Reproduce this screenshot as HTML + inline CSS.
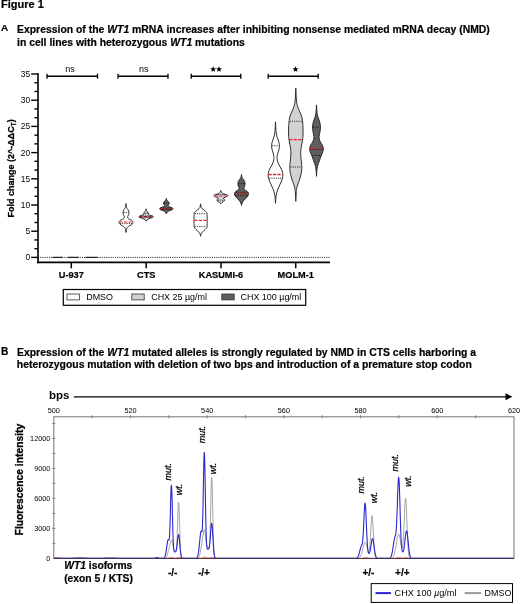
<!DOCTYPE html>
<html><head><meta charset="utf-8"><title>Figure 1</title>
<style>
html,body{margin:0;padding:0;background:#fff;}
body{width:520px;height:604px;overflow:hidden;font-family:"Liberation Sans",sans-serif;}
svg{display:block;opacity:0.999;will-change:transform;font-family:"Liberation Sans",sans-serif;}
svg text{fill:#000;}
</style></head><body>
<svg width="520" height="604" viewBox="0 0 520 604">
<rect width="520" height="604" fill="#fff"/>
<text transform="translate(1,8.2) scale(1,0.92)" font-size="11.05" font-weight="bold" stroke="#000" stroke-width="0.2">Figure 1</text>
<text x="0.9" y="31.2" font-size="9.9" font-weight="bold" stroke="#000" stroke-width="0.2">A</text>
<text x="17" y="33.1" font-size="10.42" font-weight="bold" stroke="#000" stroke-width="0.2">Expression of the <tspan font-style="italic">WT1</tspan> mRNA increases after inhibiting nonsense mediated mRNA decay (NMD)</text>
<text x="17" y="45.7" font-size="10.42" font-weight="bold" stroke="#000" stroke-width="0.2">in cell lines with heterozygous <tspan font-style="italic">WT1</tspan> mutations</text>
<text x="1.0" y="355.3" font-size="10.2" font-weight="bold" stroke="#000" stroke-width="0.2">B</text>
<text x="17" y="355.8" font-size="10.42" font-weight="bold" stroke="#000" stroke-width="0.2">Expression of the <tspan font-style="italic">WT1</tspan> mutated alleles is strongly regulated by NMD in CTS cells harboring a</text>
<text x="16.8" y="368.2" font-size="10.42" font-weight="bold" stroke="#000" stroke-width="0.2">heterozygous mutation with deletion of two bps and introduction of a premature stop codon</text>
<line x1="38.0" x2="38.0" y1="73.0" y2="263.2" stroke="#000" stroke-width="1.6"/>
<line x1="37.3" x2="330" y1="262.4" y2="262.4" stroke="#000" stroke-width="1.6"/>
<line x1="31.2" x2="38.0" y1="257.40" y2="257.40" stroke="#000" stroke-width="1.4"/>
<text x="30.2" y="260.40" font-size="8.4" text-anchor="end">0</text>
<line x1="34.4" x2="38.0" y1="248.67" y2="248.67" stroke="#000" stroke-width="1.4"/>
<line x1="34.4" x2="38.0" y1="239.93" y2="239.93" stroke="#000" stroke-width="1.4"/>
<line x1="31.2" x2="38.0" y1="231.20" y2="231.20" stroke="#000" stroke-width="1.4"/>
<text x="30.2" y="234.20" font-size="8.4" text-anchor="end">5</text>
<line x1="34.4" x2="38.0" y1="222.47" y2="222.47" stroke="#000" stroke-width="1.4"/>
<line x1="34.4" x2="38.0" y1="213.73" y2="213.73" stroke="#000" stroke-width="1.4"/>
<line x1="31.2" x2="38.0" y1="205.00" y2="205.00" stroke="#000" stroke-width="1.4"/>
<text x="30.2" y="208.00" font-size="8.4" text-anchor="end">10</text>
<line x1="34.4" x2="38.0" y1="196.27" y2="196.27" stroke="#000" stroke-width="1.4"/>
<line x1="34.4" x2="38.0" y1="187.53" y2="187.53" stroke="#000" stroke-width="1.4"/>
<line x1="31.2" x2="38.0" y1="178.80" y2="178.80" stroke="#000" stroke-width="1.4"/>
<text x="30.2" y="181.80" font-size="8.4" text-anchor="end">15</text>
<line x1="34.4" x2="38.0" y1="170.07" y2="170.07" stroke="#000" stroke-width="1.4"/>
<line x1="34.4" x2="38.0" y1="161.33" y2="161.33" stroke="#000" stroke-width="1.4"/>
<line x1="31.2" x2="38.0" y1="152.60" y2="152.60" stroke="#000" stroke-width="1.4"/>
<text x="30.2" y="155.60" font-size="8.4" text-anchor="end">20</text>
<line x1="34.4" x2="38.0" y1="143.87" y2="143.87" stroke="#000" stroke-width="1.4"/>
<line x1="34.4" x2="38.0" y1="135.13" y2="135.13" stroke="#000" stroke-width="1.4"/>
<line x1="31.2" x2="38.0" y1="126.40" y2="126.40" stroke="#000" stroke-width="1.4"/>
<text x="30.2" y="129.40" font-size="8.4" text-anchor="end">25</text>
<line x1="34.4" x2="38.0" y1="117.67" y2="117.67" stroke="#000" stroke-width="1.4"/>
<line x1="34.4" x2="38.0" y1="108.93" y2="108.93" stroke="#000" stroke-width="1.4"/>
<line x1="31.2" x2="38.0" y1="100.20" y2="100.20" stroke="#000" stroke-width="1.4"/>
<text x="30.2" y="103.20" font-size="8.4" text-anchor="end">30</text>
<line x1="34.4" x2="38.0" y1="91.47" y2="91.47" stroke="#000" stroke-width="1.4"/>
<line x1="34.4" x2="38.0" y1="82.73" y2="82.73" stroke="#000" stroke-width="1.4"/>
<line x1="31.2" x2="38.0" y1="74.00" y2="74.00" stroke="#000" stroke-width="1.4"/>
<text x="30.2" y="77.00" font-size="8.4" text-anchor="end">35</text>
<line x1="38" x2="329.5" y1="257.40" y2="257.40" stroke="#111" stroke-width="0.9" stroke-dasharray="1.1,1.1"/>
<line x1="52.5" x2="62.5" y1="257.40" y2="257.40" stroke="#222" stroke-width="1.2"/>
<line x1="68.0" x2="78.8" y1="257.40" y2="257.40" stroke="#222" stroke-width="1.2"/>
<line x1="85.5" x2="97.5" y1="257.40" y2="257.40" stroke="#222" stroke-width="1.2"/>
<line x1="71.3" x2="71.3" y1="262.5" y2="268.3" stroke="#000" stroke-width="1.5"/>
<text x="71.3" y="277.7" font-size="9.2" font-weight="bold" text-anchor="middle" stroke="#000" stroke-width="0.2">U-937</text>
<line x1="146.2" x2="146.2" y1="262.5" y2="268.3" stroke="#000" stroke-width="1.5"/>
<text x="146.2" y="277.7" font-size="9.2" font-weight="bold" text-anchor="middle" stroke="#000" stroke-width="0.2">CTS</text>
<line x1="221.0" x2="221.0" y1="262.5" y2="268.3" stroke="#000" stroke-width="1.5"/>
<text x="221.0" y="277.7" font-size="9.2" font-weight="bold" text-anchor="middle" stroke="#000" stroke-width="0.2">KASUMI-6</text>
<line x1="295.7" x2="295.7" y1="262.5" y2="268.3" stroke="#000" stroke-width="1.5"/>
<text x="295.7" y="277.7" font-size="9.2" font-weight="bold" text-anchor="middle" stroke="#000" stroke-width="0.2">MOLM-1</text>
<path d="M47.0,73.7V78.8M97.5,73.7V78.8M47.0,76.25H97.5" stroke="#000" stroke-width="1.3" fill="none"/>
<path d="M118.0,73.7V78.8M168.0,73.7V78.8M118.0,76.25H168.0" stroke="#000" stroke-width="1.3" fill="none"/>
<path d="M191.2,73.7V78.8M240.8,73.7V78.8M191.2,76.25H240.8" stroke="#000" stroke-width="1.3" fill="none"/>
<path d="M268.2,73.7V78.8M318.2,73.7V78.8M268.2,76.25H318.2" stroke="#000" stroke-width="1.3" fill="none"/>
<text x="70" y="72" font-size="9" text-anchor="middle">ns</text>
<text x="143.8" y="72" font-size="9" text-anchor="middle">ns</text>
<polygon points="213.20,66.20 214.02,68.17 216.15,68.34 214.53,69.73 215.02,71.81 213.20,70.70 211.38,71.81 211.87,69.73 210.25,68.34 212.38,68.17" fill="#000"/>
<polygon points="219.00,66.20 219.82,68.17 221.95,68.34 220.33,69.73 220.82,71.81 219.00,70.70 217.18,71.81 217.67,69.73 216.05,68.34 218.18,68.17" fill="#000"/>
<polygon points="295.50,66.20 296.32,68.17 298.45,68.34 296.83,69.73 297.32,71.81 295.50,70.70 293.68,71.81 294.17,69.73 292.55,68.34 294.68,68.17" fill="#000"/>
<text transform="translate(13.9,168.4) rotate(-90)" font-size="9" font-weight="bold" text-anchor="middle" stroke="#000" stroke-width="0.25">Fold change (2^-ΔΔC<tspan font-size="6.3" dy="1.8">T</tspan><tspan dy="-1.8">)</tspan></text>
<rect x="63.3" y="289.5" width="242.4" height="15.8" fill="#fff" stroke="#000" stroke-width="1.2"/>
<rect x="67.0" y="294.0" width="12.4" height="5.9" fill="#ffffff" stroke="#333" stroke-width="0.8"/>
<text x="86.2" y="300.1" font-size="8.95">DMSO</text>
<rect x="131.8" y="294.0" width="12.4" height="5.9" fill="#d2d2d2" stroke="#333" stroke-width="0.8"/>
<text x="151.2" y="300.1" font-size="8.95">CHX 25 µg/ml</text>
<rect x="221.8" y="294.0" width="12.4" height="5.9" fill="#5e5e5e" stroke="#333" stroke-width="0.8"/>
<text x="240.5" y="300.1" font-size="8.95">CHX 100 µg/ml</text>
<path d="M126.00,203.50 C126.06,203.83 126.25,204.83 126.35,205.50 C126.45,206.17 126.34,206.83 126.60,207.50 C126.86,208.17 127.53,208.87 127.90,209.50 C128.27,210.13 128.62,210.73 128.80,211.30 C128.98,211.87 129.02,212.37 129.00,212.90 C128.98,213.43 128.88,213.95 128.70,214.50 C128.52,215.05 128.07,215.68 127.90,216.20 C127.73,216.72 127.58,217.17 127.70,217.60 C127.82,218.03 128.02,218.40 128.60,218.80 C129.18,219.20 130.53,219.60 131.20,220.00 C131.87,220.40 132.32,220.82 132.60,221.20 C132.88,221.58 132.90,221.90 132.90,222.30 C132.90,222.70 132.92,223.15 132.60,223.60 C132.28,224.05 131.67,224.55 131.00,225.00 C130.33,225.45 129.23,225.87 128.60,226.30 C127.97,226.73 127.55,227.07 127.20,227.60 C126.85,228.13 126.70,228.70 126.50,229.50 C126.30,230.30 126.08,231.92 126.00,232.40 L126.00,232.40 C125.92,231.92 125.70,230.30 125.50,229.50 C125.30,228.70 125.15,228.13 124.80,227.60 C124.45,227.07 124.03,226.73 123.40,226.30 C122.77,225.87 121.67,225.45 121.00,225.00 C120.33,224.55 119.72,224.05 119.40,223.60 C119.08,223.15 119.10,222.70 119.10,222.30 C119.10,221.90 119.12,221.58 119.40,221.20 C119.68,220.82 120.13,220.40 120.80,220.00 C121.47,219.60 122.82,219.20 123.40,218.80 C123.98,218.40 124.18,218.03 124.30,217.60 C124.42,217.17 124.27,216.72 124.10,216.20 C123.93,215.68 123.48,215.05 123.30,214.50 C123.12,213.95 123.02,213.43 123.00,212.90 C122.98,212.37 123.02,211.87 123.20,211.30 C123.38,210.73 123.73,210.13 124.10,209.50 C124.47,208.87 125.14,208.17 125.40,207.50 C125.66,206.83 125.55,206.17 125.65,205.50 C125.75,204.83 125.94,203.83 126.00,203.50Z" fill="#ffffff" stroke="#1c1c1c" stroke-width="0.9" stroke-linejoin="round"/>
<line x1="123.64" x2="128.36" y1="212.60" y2="212.60" stroke="#111" stroke-width="0.9" stroke-dasharray="1.1,1.1"/>
<line x1="120.00" x2="132.00" y1="223.60" y2="223.60" stroke="#111" stroke-width="0.9" stroke-dasharray="1.1,1.1"/>
<line x1="119.48" x2="132.52" y1="222.00" y2="222.00" stroke="#e8202a" stroke-width="1.0" stroke-dasharray="3.2,1.3"/>
<path d="M146.10,208.80 C146.17,209.13 146.27,210.30 146.50,210.80 C146.73,211.30 147.20,211.47 147.50,211.80 C147.80,212.13 148.15,212.47 148.30,212.80 C148.45,213.13 148.33,213.50 148.40,213.80 C148.47,214.10 148.32,214.33 148.70,214.60 C149.08,214.87 150.00,215.13 150.70,215.40 C151.40,215.67 152.47,215.97 152.90,216.20 C153.33,216.43 153.33,216.60 153.30,216.80 C153.27,217.00 153.20,217.17 152.70,217.40 C152.20,217.63 151.03,217.93 150.30,218.20 C149.57,218.47 148.85,218.70 148.30,219.00 C147.75,219.30 147.37,219.63 147.00,220.00 C146.63,220.37 146.25,221.00 146.10,221.20 L146.10,221.20 C145.95,221.00 145.57,220.37 145.20,220.00 C144.83,219.63 144.45,219.30 143.90,219.00 C143.35,218.70 142.63,218.47 141.90,218.20 C141.17,217.93 140.00,217.63 139.50,217.40 C139.00,217.17 138.93,217.00 138.90,216.80 C138.87,216.60 138.87,216.43 139.30,216.20 C139.73,215.97 140.80,215.67 141.50,215.40 C142.20,215.13 143.12,214.87 143.50,214.60 C143.88,214.33 143.73,214.10 143.80,213.80 C143.87,213.50 143.75,213.13 143.90,212.80 C144.05,212.47 144.40,212.13 144.70,211.80 C145.00,211.47 145.47,211.30 145.70,210.80 C145.93,210.30 146.03,209.13 146.10,208.80Z" fill="#d2d2d2" stroke="#1c1c1c" stroke-width="0.9" stroke-linejoin="round"/>
<line x1="144.44" x2="147.76" y1="213.40" y2="213.40" stroke="#111" stroke-width="0.9" stroke-dasharray="1.1,1.1"/>
<line x1="140.72" x2="151.48" y1="215.90" y2="215.90" stroke="#111" stroke-width="0.9" stroke-dasharray="1.1,1.1"/>
<line x1="140.10" x2="152.10" y1="217.40" y2="217.40" stroke="#111" stroke-width="0.9" stroke-dasharray="1.1,1.1"/>
<line x1="139.33" x2="152.87" y1="216.60" y2="216.60" stroke="#8e1a20" stroke-width="1.1" stroke-dasharray="3.2,1.3"/>
<path d="M166.30,198.30 C166.37,198.58 166.42,199.52 166.70,200.00 C166.98,200.48 167.62,200.83 168.00,201.20 C168.38,201.57 168.80,201.90 169.00,202.20 C169.20,202.50 169.22,202.70 169.20,203.00 C169.18,203.30 169.07,203.63 168.90,204.00 C168.73,204.37 168.32,204.87 168.20,205.20 C168.08,205.53 168.02,205.73 168.20,206.00 C168.38,206.27 168.72,206.53 169.30,206.80 C169.88,207.07 171.12,207.33 171.70,207.60 C172.28,207.87 172.60,208.17 172.80,208.40 C173.00,208.63 173.02,208.77 172.90,209.00 C172.78,209.23 172.63,209.53 172.10,209.80 C171.57,210.07 170.40,210.32 169.70,210.60 C169.00,210.88 168.37,211.18 167.90,211.50 C167.43,211.82 167.17,212.08 166.90,212.50 C166.63,212.92 166.40,213.75 166.30,214.00 L166.30,214.00 C166.20,213.75 165.97,212.92 165.70,212.50 C165.43,212.08 165.17,211.82 164.70,211.50 C164.23,211.18 163.60,210.88 162.90,210.60 C162.20,210.32 161.03,210.07 160.50,209.80 C159.97,209.53 159.82,209.23 159.70,209.00 C159.58,208.77 159.60,208.63 159.80,208.40 C160.00,208.17 160.32,207.87 160.90,207.60 C161.48,207.33 162.72,207.07 163.30,206.80 C163.88,206.53 164.22,206.27 164.40,206.00 C164.58,205.73 164.52,205.53 164.40,205.20 C164.28,204.87 163.87,204.37 163.70,204.00 C163.53,203.63 163.42,203.30 163.40,203.00 C163.38,202.70 163.40,202.50 163.60,202.20 C163.80,201.90 164.22,201.57 164.60,201.20 C164.98,200.83 165.62,200.48 165.90,200.00 C166.18,199.52 166.23,198.58 166.30,198.30Z" fill="#5e5e5e" stroke="#1c1c1c" stroke-width="0.9" stroke-linejoin="round"/>
<line x1="164.00" x2="168.60" y1="203.00" y2="203.00" stroke="#111" stroke-width="0.9" stroke-dasharray="1.1,1.1"/>
<line x1="160.95" x2="171.65" y1="208.00" y2="208.00" stroke="#111" stroke-width="0.9" stroke-dasharray="1.1,1.1"/>
<line x1="161.00" x2="171.60" y1="209.70" y2="209.70" stroke="#111" stroke-width="0.9" stroke-dasharray="1.1,1.1"/>
<line x1="160.03" x2="172.57" y1="208.80" y2="208.80" stroke="#a81c24" stroke-width="1.2" stroke-dasharray="3.2,1.3"/>
<path d="M200.60,203.80 C200.66,204.17 200.82,205.33 200.95,206.00 C201.08,206.67 201.03,207.22 201.40,207.80 C201.78,208.38 202.53,208.93 203.20,209.50 C203.87,210.07 204.80,210.65 205.40,211.20 C206.00,211.75 206.52,212.25 206.80,212.80 C207.08,213.35 207.03,213.20 207.10,214.50 C207.17,215.80 207.20,218.68 207.20,220.60 C207.20,222.52 207.18,224.80 207.10,226.00 C207.02,227.20 207.02,227.22 206.70,227.80 C206.38,228.38 205.78,228.92 205.20,229.50 C204.62,230.08 203.82,230.72 203.20,231.30 C202.58,231.88 201.87,232.47 201.50,233.00 C201.13,233.53 201.15,233.95 201.00,234.50 C200.85,235.05 200.67,236.00 200.60,236.30 L200.60,236.30 C200.53,236.00 200.35,235.05 200.20,234.50 C200.05,233.95 200.07,233.53 199.70,233.00 C199.33,232.47 198.62,231.88 198.00,231.30 C197.38,230.72 196.58,230.08 196.00,229.50 C195.42,228.92 194.82,228.38 194.50,227.80 C194.18,227.22 194.18,227.20 194.10,226.00 C194.02,224.80 194.00,222.52 194.00,220.60 C194.00,218.68 194.03,215.80 194.10,214.50 C194.17,213.20 194.12,213.35 194.40,212.80 C194.68,212.25 195.20,211.75 195.80,211.20 C196.40,210.65 197.33,210.07 198.00,209.50 C198.67,208.93 199.42,208.38 199.80,207.80 C200.17,207.22 200.12,206.67 200.25,206.00 C200.38,205.33 200.54,204.17 200.60,203.80Z" fill="#ffffff" stroke="#1c1c1c" stroke-width="0.9" stroke-linejoin="round"/>
<line x1="194.84" x2="206.36" y1="213.70" y2="213.70" stroke="#111" stroke-width="0.9" stroke-dasharray="1.1,1.1"/>
<line x1="194.83" x2="206.37" y1="226.60" y2="226.60" stroke="#111" stroke-width="0.9" stroke-dasharray="1.1,1.1"/>
<line x1="194.30" x2="206.90" y1="220.30" y2="220.30" stroke="#e8202a" stroke-width="1.3" stroke-dasharray="3.2,1.3"/>
<path d="M220.80,190.60 C220.87,190.83 220.93,191.60 221.20,192.00 C221.47,192.40 222.03,192.70 222.40,193.00 C222.77,193.30 222.80,193.55 223.40,193.80 C224.00,194.05 225.32,194.27 226.00,194.50 C226.68,194.73 227.22,194.98 227.50,195.20 C227.78,195.42 227.75,195.58 227.70,195.80 C227.65,196.02 227.65,196.25 227.20,196.50 C226.75,196.75 225.65,197.02 225.00,197.30 C224.35,197.58 223.43,197.88 223.30,198.20 C223.17,198.52 223.97,198.85 224.20,199.20 C224.43,199.55 224.77,199.95 224.70,200.30 C224.63,200.65 224.22,200.97 223.80,201.30 C223.38,201.63 222.62,201.98 222.20,202.30 C221.78,202.62 221.53,202.92 221.30,203.20 C221.07,203.48 220.88,203.87 220.80,204.00 L220.80,204.00 C220.72,203.87 220.53,203.48 220.30,203.20 C220.07,202.92 219.82,202.62 219.40,202.30 C218.98,201.98 218.22,201.63 217.80,201.30 C217.38,200.97 216.97,200.65 216.90,200.30 C216.83,199.95 217.17,199.55 217.40,199.20 C217.63,198.85 218.43,198.52 218.30,198.20 C218.17,197.88 217.25,197.58 216.60,197.30 C215.95,197.02 214.85,196.75 214.40,196.50 C213.95,196.25 213.95,196.02 213.90,195.80 C213.85,195.58 213.82,195.42 214.10,195.20 C214.38,194.98 214.92,194.73 215.60,194.50 C216.28,194.27 217.60,194.05 218.20,193.80 C218.80,193.55 218.83,193.30 219.20,193.00 C219.57,192.70 220.13,192.40 220.40,192.00 C220.67,191.60 220.73,190.83 220.80,190.60Z" fill="#d2d2d2" stroke="#1c1c1c" stroke-width="0.9" stroke-linejoin="round"/>
<line x1="215.77" x2="225.83" y1="194.70" y2="194.70" stroke="#111" stroke-width="0.9" stroke-dasharray="1.1,1.1"/>
<line x1="217.55" x2="224.05" y1="200.20" y2="200.20" stroke="#111" stroke-width="0.9" stroke-dasharray="1.1,1.1"/>
<line x1="214.49" x2="227.11" y1="196.20" y2="196.20" stroke="#f0506a" stroke-width="1.3" stroke-dasharray="3.2,1.3"/>
<path d="M241.50,174.40 C241.56,174.75 241.73,175.93 241.85,176.50 C241.97,177.07 241.92,177.30 242.20,177.80 C242.47,178.30 243.08,178.88 243.50,179.50 C243.92,180.12 244.43,180.78 244.70,181.50 C244.97,182.22 245.10,183.05 245.10,183.80 C245.10,184.55 244.87,185.38 244.70,186.00 C244.53,186.62 244.23,187.07 244.10,187.50 C243.97,187.93 243.80,188.22 243.90,188.60 C244.00,188.98 244.20,189.37 244.70,189.80 C245.20,190.23 246.32,190.73 246.90,191.20 C247.48,191.67 247.93,192.15 248.20,192.60 C248.47,193.05 248.50,193.45 248.50,193.90 C248.50,194.35 248.43,194.78 248.20,195.30 C247.97,195.82 247.62,196.38 247.10,197.00 C246.58,197.62 245.73,198.33 245.10,199.00 C244.47,199.67 243.80,200.33 243.30,201.00 C242.80,201.67 242.40,202.27 242.10,203.00 C241.80,203.73 241.60,205.00 241.50,205.40 L241.50,205.40 C241.40,205.00 241.20,203.73 240.90,203.00 C240.60,202.27 240.20,201.67 239.70,201.00 C239.20,200.33 238.53,199.67 237.90,199.00 C237.27,198.33 236.42,197.62 235.90,197.00 C235.38,196.38 235.03,195.82 234.80,195.30 C234.57,194.78 234.50,194.35 234.50,193.90 C234.50,193.45 234.53,193.05 234.80,192.60 C235.07,192.15 235.52,191.67 236.10,191.20 C236.68,190.73 237.80,190.23 238.30,189.80 C238.80,189.37 239.00,188.98 239.10,188.60 C239.20,188.22 239.03,187.93 238.90,187.50 C238.77,187.07 238.47,186.62 238.30,186.00 C238.13,185.38 237.90,184.55 237.90,183.80 C237.90,183.05 238.03,182.22 238.30,181.50 C238.57,180.78 239.08,180.12 239.50,179.50 C239.92,178.88 240.53,178.30 240.80,177.80 C241.08,177.30 241.03,177.07 241.15,176.50 C241.27,175.93 241.44,174.75 241.50,174.40Z" fill="#5e5e5e" stroke="#1c1c1c" stroke-width="0.9" stroke-linejoin="round"/>
<line x1="238.53" x2="244.47" y1="183.60" y2="183.60" stroke="#111" stroke-width="0.9" stroke-dasharray="1.1,1.1"/>
<line x1="235.77" x2="247.23" y1="192.20" y2="192.20" stroke="#111" stroke-width="0.9" stroke-dasharray="1.1,1.1"/>
<line x1="235.40" x2="247.60" y1="195.30" y2="195.30" stroke="#111" stroke-width="0.9" stroke-dasharray="1.1,1.1"/>
<line x1="234.87" x2="248.13" y1="193.60" y2="193.60" stroke="#c02028" stroke-width="1.3" stroke-dasharray="3.2,1.3"/>
<path d="M275.50,121.80 C275.55,122.83 275.68,126.13 275.80,128.00 C275.92,129.87 275.98,131.50 276.20,133.00 C276.42,134.50 276.72,135.67 277.10,137.00 C277.48,138.33 278.10,139.57 278.50,141.00 C278.90,142.43 279.45,144.10 279.50,145.60 C279.55,147.10 279.12,148.60 278.80,150.00 C278.48,151.40 277.90,152.73 277.60,154.00 C277.30,155.27 277.02,156.43 277.00,157.60 C276.98,158.77 277.15,159.77 277.50,161.00 C277.85,162.23 278.47,163.67 279.10,165.00 C279.73,166.33 280.75,167.83 281.30,169.00 C281.85,170.17 282.13,171.03 282.40,172.00 C282.67,172.97 282.88,173.80 282.90,174.80 C282.92,175.80 282.80,176.80 282.50,178.00 C282.20,179.20 281.63,180.67 281.10,182.00 C280.57,183.33 279.90,184.67 279.30,186.00 C278.70,187.33 277.98,188.67 277.50,190.00 C277.02,191.33 276.67,192.67 276.40,194.00 C276.12,195.33 276.00,196.45 275.85,198.00 C275.70,199.55 275.56,202.42 275.50,203.30 L275.50,203.30 C275.44,202.42 275.30,199.55 275.15,198.00 C275.00,196.45 274.88,195.33 274.60,194.00 C274.33,192.67 273.98,191.33 273.50,190.00 C273.02,188.67 272.30,187.33 271.70,186.00 C271.10,184.67 270.43,183.33 269.90,182.00 C269.37,180.67 268.80,179.20 268.50,178.00 C268.20,176.80 268.08,175.80 268.10,174.80 C268.12,173.80 268.33,172.97 268.60,172.00 C268.87,171.03 269.15,170.17 269.70,169.00 C270.25,167.83 271.27,166.33 271.90,165.00 C272.53,163.67 273.15,162.23 273.50,161.00 C273.85,159.77 274.02,158.77 274.00,157.60 C273.98,156.43 273.70,155.27 273.40,154.00 C273.10,152.73 272.52,151.40 272.20,150.00 C271.88,148.60 271.45,147.10 271.50,145.60 C271.55,144.10 272.10,142.43 272.50,141.00 C272.90,139.57 273.52,138.33 273.90,137.00 C274.28,135.67 274.58,134.50 274.80,133.00 C275.02,131.50 275.08,129.87 275.20,128.00 C275.32,126.13 275.45,122.83 275.50,121.80Z" fill="#ffffff" stroke="#1c1c1c" stroke-width="0.9" stroke-linejoin="round"/>
<line x1="272.13" x2="278.87" y1="145.80" y2="145.80" stroke="#111" stroke-width="0.9" stroke-dasharray="1.1,1.1"/>
<line x1="269.17" x2="281.83" y1="178.20" y2="178.20" stroke="#111" stroke-width="0.9" stroke-dasharray="1.1,1.1"/>
<line x1="268.45" x2="282.55" y1="174.50" y2="174.50" stroke="#e8202a" stroke-width="1.3" stroke-dasharray="3.2,1.3"/>
<path d="M295.80,88.00 C295.85,89.17 295.98,92.83 296.10,95.00 C296.22,97.17 296.32,99.33 296.50,101.00 C296.68,102.67 296.92,103.83 297.20,105.00 C297.48,106.17 297.83,107.00 298.20,108.00 C298.57,109.00 298.90,109.83 299.40,111.00 C299.90,112.17 300.73,113.67 301.20,115.00 C301.67,116.33 301.97,117.83 302.20,119.00 C302.43,120.17 302.47,120.67 302.60,122.00 C302.73,123.33 302.93,124.83 303.00,127.00 C303.07,129.17 303.07,132.83 303.00,135.00 C302.93,137.17 302.83,138.33 302.60,140.00 C302.37,141.67 301.90,143.23 301.60,145.00 C301.30,146.77 300.93,148.77 300.80,150.60 C300.67,152.43 300.70,154.10 300.80,156.00 C300.90,157.90 301.23,160.25 301.40,162.00 C301.57,163.75 301.77,165.00 301.80,166.50 C301.83,168.00 301.80,169.42 301.60,171.00 C301.40,172.58 300.98,174.43 300.60,176.00 C300.22,177.57 299.80,178.90 299.30,180.40 C298.80,181.90 298.03,183.67 297.60,185.00 C297.17,186.33 296.93,187.07 296.70,188.40 C296.47,189.73 296.35,190.85 296.20,193.00 C296.05,195.15 295.87,199.92 295.80,201.30 L295.80,201.30 C295.73,199.92 295.55,195.15 295.40,193.00 C295.25,190.85 295.13,189.73 294.90,188.40 C294.67,187.07 294.43,186.33 294.00,185.00 C293.57,183.67 292.80,181.90 292.30,180.40 C291.80,178.90 291.38,177.57 291.00,176.00 C290.62,174.43 290.20,172.58 290.00,171.00 C289.80,169.42 289.77,168.00 289.80,166.50 C289.83,165.00 290.03,163.75 290.20,162.00 C290.37,160.25 290.70,157.90 290.80,156.00 C290.90,154.10 290.93,152.43 290.80,150.60 C290.67,148.77 290.30,146.77 290.00,145.00 C289.70,143.23 289.23,141.67 289.00,140.00 C288.77,138.33 288.67,137.17 288.60,135.00 C288.53,132.83 288.53,129.17 288.60,127.00 C288.67,124.83 288.87,123.33 289.00,122.00 C289.13,120.67 289.17,120.17 289.40,119.00 C289.63,117.83 289.93,116.33 290.40,115.00 C290.87,113.67 291.70,112.17 292.20,111.00 C292.70,109.83 293.03,109.00 293.40,108.00 C293.77,107.00 294.12,106.17 294.40,105.00 C294.68,103.83 294.92,102.67 295.10,101.00 C295.28,99.33 295.38,97.17 295.50,95.00 C295.62,92.83 295.75,89.17 295.80,88.00Z" fill="#d2d2d2" stroke="#1c1c1c" stroke-width="0.9" stroke-linejoin="round"/>
<line x1="289.69" x2="301.91" y1="121.30" y2="121.30" stroke="#111" stroke-width="0.9" stroke-dasharray="1.1,1.1"/>
<line x1="290.42" x2="301.18" y1="167.00" y2="167.00" stroke="#111" stroke-width="0.9" stroke-dasharray="1.1,1.1"/>
<line x1="289.27" x2="302.33" y1="139.60" y2="139.60" stroke="#e8202a" stroke-width="1.3" stroke-dasharray="3.2,1.3"/>
<path d="M316.50,104.90 C316.55,105.75 316.67,108.35 316.80,110.00 C316.93,111.65 317.05,113.47 317.30,114.80 C317.55,116.13 317.90,116.80 318.30,118.00 C318.70,119.20 319.33,120.55 319.70,122.00 C320.07,123.45 320.43,125.20 320.50,126.70 C320.57,128.20 320.30,129.62 320.10,131.00 C319.90,132.38 319.47,133.88 319.30,135.00 C319.13,136.12 319.03,136.78 319.10,137.70 C319.17,138.62 319.33,139.53 319.70,140.50 C320.07,141.47 320.80,142.58 321.30,143.50 C321.80,144.42 322.37,145.15 322.70,146.00 C323.03,146.85 323.27,147.68 323.30,148.60 C323.33,149.52 323.20,150.43 322.90,151.50 C322.60,152.57 321.93,153.92 321.50,155.00 C321.07,156.08 320.63,157.08 320.30,158.00 C319.97,158.92 319.82,159.58 319.50,160.50 C319.18,161.42 318.73,162.50 318.40,163.50 C318.07,164.50 317.75,165.42 317.50,166.50 C317.25,167.58 317.07,168.35 316.90,170.00 C316.73,171.65 316.57,175.33 316.50,176.40 L316.50,176.40 C316.43,175.33 316.27,171.65 316.10,170.00 C315.93,168.35 315.75,167.58 315.50,166.50 C315.25,165.42 314.93,164.50 314.60,163.50 C314.27,162.50 313.82,161.42 313.50,160.50 C313.18,159.58 313.03,158.92 312.70,158.00 C312.37,157.08 311.93,156.08 311.50,155.00 C311.07,153.92 310.40,152.57 310.10,151.50 C309.80,150.43 309.67,149.52 309.70,148.60 C309.73,147.68 309.97,146.85 310.30,146.00 C310.63,145.15 311.20,144.42 311.70,143.50 C312.20,142.58 312.93,141.47 313.30,140.50 C313.67,139.53 313.83,138.62 313.90,137.70 C313.97,136.78 313.87,136.12 313.70,135.00 C313.53,133.88 313.10,132.38 312.90,131.00 C312.70,129.62 312.43,128.20 312.50,126.70 C312.57,125.20 312.93,123.45 313.30,122.00 C313.67,120.55 314.30,119.20 314.70,118.00 C315.10,116.80 315.45,116.13 315.70,114.80 C315.95,113.47 316.07,111.65 316.20,110.00 C316.33,108.35 316.45,105.75 316.50,104.90Z" fill="#5e5e5e" stroke="#1c1c1c" stroke-width="0.9" stroke-linejoin="round"/>
<line x1="313.14" x2="319.86" y1="127.10" y2="127.10" stroke="#111" stroke-width="0.9" stroke-dasharray="1.1,1.1"/>
<line x1="310.41" x2="322.59" y1="149.40" y2="149.40" stroke="#111" stroke-width="0.9" stroke-dasharray="1.1,1.1"/>
<line x1="312.26" x2="320.74" y1="155.40" y2="155.40" stroke="#111" stroke-width="0.9" stroke-dasharray="1.1,1.1"/>
<line x1="310.02" x2="322.98" y1="148.50" y2="148.50" stroke="#c82830" stroke-width="1.3" stroke-dasharray="3.2,1.3"/>
<rect x="53.8" y="416.8" width="460.2" height="141.6" fill="none" stroke="#747474" stroke-width="1"/>
<text x="53.80" y="412.8" font-size="7.3" text-anchor="middle">500</text>
<line x1="92.15" x2="92.15" y1="415.2" y2="418.4" stroke="#7a7a7a" stroke-width="0.9"/>
<line x1="130.50" x2="130.50" y1="415.2" y2="418.4" stroke="#7a7a7a" stroke-width="0.9"/>
<text x="130.50" y="412.8" font-size="7.3" text-anchor="middle">520</text>
<line x1="168.85" x2="168.85" y1="415.2" y2="418.4" stroke="#7a7a7a" stroke-width="0.9"/>
<line x1="207.20" x2="207.20" y1="415.2" y2="418.4" stroke="#7a7a7a" stroke-width="0.9"/>
<text x="207.20" y="412.8" font-size="7.3" text-anchor="middle">540</text>
<line x1="245.55" x2="245.55" y1="415.2" y2="418.4" stroke="#7a7a7a" stroke-width="0.9"/>
<line x1="283.90" x2="283.90" y1="415.2" y2="418.4" stroke="#7a7a7a" stroke-width="0.9"/>
<text x="283.90" y="412.8" font-size="7.3" text-anchor="middle">560</text>
<line x1="322.25" x2="322.25" y1="415.2" y2="418.4" stroke="#7a7a7a" stroke-width="0.9"/>
<line x1="360.60" x2="360.60" y1="415.2" y2="418.4" stroke="#7a7a7a" stroke-width="0.9"/>
<text x="360.60" y="412.8" font-size="7.3" text-anchor="middle">580</text>
<line x1="398.95" x2="398.95" y1="415.2" y2="418.4" stroke="#7a7a7a" stroke-width="0.9"/>
<line x1="437.30" x2="437.30" y1="415.2" y2="418.4" stroke="#7a7a7a" stroke-width="0.9"/>
<text x="437.30" y="412.8" font-size="7.3" text-anchor="middle">600</text>
<line x1="475.65" x2="475.65" y1="415.2" y2="418.4" stroke="#7a7a7a" stroke-width="0.9"/>
<text x="514.00" y="412.8" font-size="7.3" text-anchor="middle">620</text>
<text x="50.4" y="561.00" font-size="7.3" text-anchor="end">0</text>
<line x1="52.2" x2="55.4" y1="543.40" y2="543.40" stroke="#7a7a7a" stroke-width="0.9"/>
<line x1="52.2" x2="55.4" y1="528.40" y2="528.40" stroke="#7a7a7a" stroke-width="0.9"/>
<text x="50.4" y="531.00" font-size="7.3" text-anchor="end">3000</text>
<line x1="52.2" x2="55.4" y1="513.40" y2="513.40" stroke="#7a7a7a" stroke-width="0.9"/>
<line x1="52.2" x2="55.4" y1="498.40" y2="498.40" stroke="#7a7a7a" stroke-width="0.9"/>
<text x="50.4" y="501.00" font-size="7.3" text-anchor="end">6000</text>
<line x1="52.2" x2="55.4" y1="483.40" y2="483.40" stroke="#7a7a7a" stroke-width="0.9"/>
<line x1="52.2" x2="55.4" y1="468.40" y2="468.40" stroke="#7a7a7a" stroke-width="0.9"/>
<text x="50.4" y="471.00" font-size="7.3" text-anchor="end">9000</text>
<line x1="52.2" x2="55.4" y1="453.40" y2="453.40" stroke="#7a7a7a" stroke-width="0.9"/>
<line x1="52.2" x2="55.4" y1="438.40" y2="438.40" stroke="#7a7a7a" stroke-width="0.9"/>
<text x="50.4" y="441.00" font-size="7.3" text-anchor="end">12000</text>
<line x1="52.2" x2="55.4" y1="423.40" y2="423.40" stroke="#7a7a7a" stroke-width="0.9"/>
<text x="48.9" y="398.5" font-size="11.5" font-weight="bold">bps</text>
<line x1="73.8" x2="506" y1="396.8" y2="396.8" stroke="#000" stroke-width="1.3"/>
<path d="M505.5,393.3V400.2L512.4,396.75Z" fill="#000"/>
<text transform="translate(22.6,479.6) rotate(-90)" font-size="10.3" font-weight="bold" text-anchor="middle" stroke="#000" stroke-width="0.3">Fluorescence intensity</text>
<path d="M54.00,558.40 L56.00,558.40 L58.00,558.40 L60.00,558.40 L62.00,558.40 L64.00,558.40 L66.00,558.40 L68.00,558.40 L70.00,558.40 L72.00,558.40 L74.00,558.40 L76.00,558.40 L78.00,558.40 L80.00,558.40 L82.00,558.40 L84.00,558.40 L86.00,558.40 L88.00,558.40 L90.00,558.40 L92.00,558.40 L94.00,558.40 L96.00,558.40 L98.00,558.40 L100.00,558.40 L102.00,558.40 L104.00,558.40 L106.00,558.40 L108.00,558.40 L110.00,558.40 L112.00,558.40 L114.00,558.40 L116.00,558.40 L118.00,558.40 L120.00,558.40 L122.00,558.40 L124.00,558.40 L126.00,558.40 L128.00,558.40 L130.00,558.40 L132.00,558.40 L134.00,558.40 L136.00,558.40 L138.00,558.40 L140.00,558.40 L142.00,558.40 L144.00,558.40 L146.00,558.40 L148.00,558.40 L150.00,558.40 L150.25,558.40 L150.50,558.40 L150.75,558.40 L151.00,558.40 L151.25,558.40 L151.50,558.40 L151.75,558.40 L152.00,558.40 L152.25,558.40 L152.50,558.40 L152.75,558.40 L153.00,558.40 L153.25,558.40 L153.50,558.40 L153.75,558.40 L154.00,558.40 L154.25,558.40 L154.50,558.40 L154.75,558.40 L155.00,558.40 L155.25,558.40 L155.50,558.40 L155.75,558.40 L156.00,558.40 L156.25,558.40 L156.50,558.40 L156.75,558.40 L157.00,558.40 L157.25,558.40 L157.50,558.40 L157.75,558.40 L158.00,558.40 L158.25,558.40 L158.50,558.40 L158.75,558.40 L159.00,558.40 L159.25,558.40 L159.50,558.40 L159.75,558.40 L160.00,558.40 L160.25,558.40 L160.50,558.40 L160.75,558.40 L161.00,558.40 L161.25,558.40 L161.50,558.40 L161.75,558.40 L162.00,558.40 L162.25,558.40 L162.50,558.40 L162.75,558.40 L163.00,558.40 L163.25,558.40 L163.50,558.40 L163.75,558.40 L164.00,558.39 L164.25,558.38 L164.50,558.37 L164.75,558.35 L165.00,558.30 L165.25,558.23 L165.50,558.12 L165.75,557.96 L166.00,557.72 L166.25,557.38 L166.50,556.94 L166.75,556.37 L167.00,555.69 L167.25,554.89 L167.50,554.01 L167.75,553.08 L168.00,552.12 L168.25,551.18 L168.50,550.27 L168.75,549.39 L169.00,548.52 L169.25,547.62 L169.50,546.65 L169.75,545.60 L170.00,544.45 L170.25,543.25 L170.50,542.07 L170.75,541.03 L171.00,540.24 L171.25,539.80 L171.50,539.77 L171.75,540.18 L172.00,540.98 L172.25,542.08 L172.50,543.36 L172.75,544.70 L173.00,545.97 L173.25,547.09 L173.50,548.03 L173.75,548.77 L174.00,549.35 L174.25,549.80 L174.50,550.18 L174.75,550.54 L175.00,550.90 L175.25,551.25 L175.50,551.52 L175.75,551.61 L176.00,551.30 L176.25,550.33 L176.50,548.36 L176.75,545.06 L177.00,540.21 L177.25,533.81 L177.50,526.24 L177.75,518.21 L178.00,510.81 L178.25,505.19 L178.50,502.36 L178.75,502.86 L179.00,506.64 L179.25,513.05 L179.50,521.07 L179.75,529.52 L180.00,537.41 L180.25,544.07 L180.50,549.20 L180.75,552.86 L181.00,555.26 L181.25,556.73 L181.50,557.57 L181.75,558.01 L182.00,558.23 L182.25,558.33 L182.50,558.37 L182.75,558.39 L183.00,558.40 L183.25,558.40 L183.50,558.40 L183.75,558.40 L184.00,558.40 L184.25,558.40 L184.50,558.40 L184.75,558.40 L185.00,558.40 L185.25,558.40 L185.50,558.40 L185.75,558.40 L186.00,558.40 L186.25,558.40 L186.50,558.40 L186.75,558.40 L187.00,558.40 L187.25,558.40 L187.50,558.40 L187.75,558.40 L188.00,558.40 L188.25,558.40 L188.50,558.40 L188.75,558.40 L189.00,558.40 L189.25,558.40 L189.50,558.40 L189.75,558.40 L190.00,558.40 L192.00,558.40 L194.00,558.40 L194.25,558.40 L194.50,558.40 L194.75,558.40 L195.00,558.40 L195.25,558.40 L195.50,558.40 L195.75,558.40 L196.00,558.40 L196.25,558.40 L196.50,558.40 L196.75,558.39 L197.00,558.38 L197.25,558.37 L197.50,558.34 L197.75,558.29 L198.00,558.21 L198.25,558.08 L198.50,557.87 L198.75,557.57 L199.00,557.13 L199.25,556.54 L199.50,555.76 L199.75,554.80 L200.00,553.65 L200.25,552.33 L200.50,550.90 L200.75,549.41 L201.00,547.91 L201.25,546.45 L201.50,545.04 L201.75,543.66 L202.00,542.29 L202.25,540.84 L202.50,539.28 L202.75,537.57 L203.00,535.74 L203.25,533.88 L203.50,532.13 L203.75,530.67 L204.00,529.69 L204.25,529.32 L204.50,529.65 L204.75,530.65 L205.00,532.22 L205.25,534.21 L205.50,536.39 L205.75,538.57 L206.00,540.58 L206.25,542.30 L206.50,543.69 L206.75,544.76 L207.00,545.55 L207.25,546.17 L207.50,546.68 L207.75,547.17 L208.00,547.68 L208.25,548.21 L208.50,548.68 L208.75,548.96 L209.00,548.80 L209.25,547.84 L209.50,545.63 L209.75,541.67 L210.00,535.56 L210.25,527.16 L210.50,516.77 L210.75,505.25 L211.00,493.98 L211.25,484.61 L211.50,478.74 L211.75,477.47 L212.00,481.07 L212.25,488.95 L212.50,499.78 L212.75,511.91 L213.00,523.75 L213.25,534.14 L213.50,542.44 L213.75,548.54 L214.00,552.68 L214.25,555.28 L214.50,556.80 L214.75,557.63 L215.00,558.05 L215.25,558.25 L215.50,558.34 L215.75,558.38 L216.00,558.39 L216.25,558.40 L216.50,558.40 L216.75,558.40 L217.00,558.40 L217.25,558.40 L217.50,558.40 L217.75,558.40 L218.00,558.40 L218.25,558.40 L218.50,558.40 L218.75,558.40 L219.00,558.40 L219.25,558.40 L219.50,558.40 L219.75,558.40 L220.00,558.40 L220.25,558.40 L220.50,558.40 L220.75,558.40 L221.00,558.40 L221.25,558.40 L221.50,558.40 L221.75,558.40 L222.00,558.40 L222.25,558.40 L222.50,558.40 L222.75,558.40 L223.00,558.40 L225.00,558.40 L227.00,558.40 L229.00,558.40 L231.00,558.40 L233.00,558.40 L235.00,558.40 L237.00,558.40 L239.00,558.40 L241.00,558.40 L243.00,558.40 L245.00,558.40 L247.00,558.40 L249.00,558.40 L251.00,558.40 L253.00,558.40 L255.00,558.40 L257.00,558.40 L259.00,558.40 L261.00,558.40 L263.00,558.40 L265.00,558.40 L267.00,558.40 L269.00,558.40 L271.00,558.40 L273.00,558.40 L275.00,558.40 L277.00,558.40 L279.00,558.40 L281.00,558.40 L283.00,558.40 L285.00,558.40 L287.00,558.40 L289.00,558.40 L291.00,558.40 L293.00,558.40 L295.00,558.40 L297.00,558.40 L299.00,558.40 L301.00,558.40 L303.00,558.40 L305.00,558.40 L307.00,558.40 L309.00,558.40 L311.00,558.40 L313.00,558.40 L315.00,558.40 L317.00,558.40 L319.00,558.40 L321.00,558.40 L323.00,558.40 L325.00,558.40 L327.00,558.40 L329.00,558.40 L331.00,558.40 L333.00,558.40 L335.00,558.40 L337.00,558.40 L339.00,558.40 L341.00,558.40 L343.00,558.40 L345.00,558.40 L347.00,558.40 L349.00,558.40 L351.00,558.40 L353.00,558.40 L355.00,558.40 L355.25,558.40 L355.50,558.40 L355.75,558.40 L356.00,558.40 L356.25,558.40 L356.50,558.39 L356.75,558.39 L357.00,558.38 L357.25,558.37 L357.50,558.35 L357.75,558.33 L358.00,558.29 L358.25,558.23 L358.50,558.15 L358.75,558.05 L359.00,557.91 L359.25,557.73 L359.50,557.50 L359.75,557.22 L360.00,556.87 L360.25,556.47 L360.50,556.00 L360.75,555.46 L361.00,554.86 L361.25,554.20 L361.50,553.48 L361.75,552.69 L362.00,551.86 L362.25,550.97 L362.50,550.04 L362.75,549.06 L363.00,548.06 L363.25,547.05 L363.50,546.06 L363.75,545.11 L364.00,544.24 L364.25,543.50 L364.50,542.92 L364.75,542.54 L365.00,542.38 L365.25,542.45 L365.50,542.75 L365.75,543.26 L366.00,543.96 L366.25,544.81 L366.50,545.75 L366.75,546.74 L367.00,547.73 L367.25,548.69 L367.50,549.57 L367.75,550.35 L368.00,550.99 L368.25,551.47 L368.50,551.73 L368.75,551.71 L369.00,551.33 L369.25,550.49 L369.50,549.09 L369.75,547.04 L370.00,544.26 L370.25,540.77 L370.50,536.66 L370.75,532.13 L371.00,527.48 L371.25,523.10 L371.50,519.41 L371.75,516.81 L372.00,515.60 L372.25,515.93 L372.50,517.80 L372.75,521.00 L373.00,525.22 L373.25,530.06 L373.50,535.09 L373.75,539.94 L374.00,544.32 L374.25,548.06 L374.50,551.09 L374.75,553.43 L375.00,555.14 L375.25,556.34 L375.50,557.15 L375.75,557.67 L376.00,557.99 L376.25,558.18 L376.50,558.28 L376.75,558.34 L377.00,558.37 L377.25,558.39 L377.50,558.39 L377.75,558.40 L378.00,558.40 L378.25,558.40 L378.50,558.40 L378.75,558.40 L379.00,558.40 L379.25,558.40 L379.50,558.40 L379.75,558.40 L380.00,558.40 L380.25,558.40 L380.50,558.40 L380.75,558.40 L381.00,558.40 L381.25,558.40 L381.50,558.40 L381.75,558.40 L382.00,558.40 L382.25,558.40 L382.50,558.40 L382.75,558.40 L383.00,558.40 L383.25,558.40 L383.50,558.40 L383.75,558.40 L384.00,558.40 L386.00,558.40 L388.00,558.40 L388.25,558.40 L388.50,558.40 L388.75,558.40 L389.00,558.40 L389.25,558.40 L389.50,558.40 L389.75,558.39 L390.00,558.39 L390.25,558.38 L390.50,558.37 L390.75,558.35 L391.00,558.32 L391.25,558.27 L391.50,558.21 L391.75,558.13 L392.00,558.01 L392.25,557.85 L392.50,557.64 L392.75,557.38 L393.00,557.04 L393.25,556.63 L393.50,556.14 L393.75,555.55 L394.00,554.87 L394.25,554.08 L394.50,553.20 L394.75,552.22 L395.00,551.15 L395.25,549.98 L395.50,548.72 L395.75,547.38 L396.00,545.96 L396.25,544.48 L396.50,542.96 L396.75,541.43 L397.00,539.92 L397.25,538.47 L397.50,537.15 L397.75,535.99 L398.00,535.07 L398.25,534.42 L398.50,534.08 L398.75,534.07 L399.00,534.41 L399.25,535.07 L399.50,536.01 L399.75,537.20 L400.00,538.56 L400.25,540.03 L400.50,541.55 L400.75,543.04 L401.00,544.44 L401.25,545.70 L401.50,546.74 L401.75,547.51 L402.00,547.92 L402.25,547.89 L402.50,547.28 L402.75,545.98 L403.00,543.86 L403.25,540.82 L403.50,536.81 L403.75,531.88 L404.00,526.20 L404.25,520.04 L404.50,513.82 L404.75,508.03 L405.00,503.22 L405.25,499.85 L405.50,498.30 L405.75,498.77 L406.00,501.22 L406.25,505.42 L406.50,511.00 L406.75,517.44 L407.00,524.22 L407.25,530.86 L407.50,536.98 L407.75,542.31 L408.00,546.73 L408.25,550.23 L408.50,552.88 L408.75,554.79 L409.00,556.13 L409.25,557.02 L409.50,557.59 L409.75,557.94 L410.00,558.15 L410.25,558.26 L410.50,558.33 L410.75,558.37 L411.00,558.38 L411.25,558.39 L411.50,558.40 L411.75,558.40 L412.00,558.40 L412.25,558.40 L412.50,558.40 L412.75,558.40 L413.00,558.40 L413.25,558.40 L413.50,558.40 L413.75,558.40 L414.00,558.40 L414.25,558.40 L414.50,558.40 L414.75,558.40 L415.00,558.40 L415.25,558.40 L415.50,558.40 L415.75,558.40 L416.00,558.40 L416.25,558.40 L416.50,558.40 L416.75,558.40 L417.00,558.40 L417.25,558.40 L417.50,558.40 L417.75,558.40 L418.00,558.40 L420.00,558.40 L422.00,558.40 L424.00,558.40 L426.00,558.40 L428.00,558.40 L430.00,558.40 L432.00,558.40 L434.00,558.40 L436.00,558.40 L438.00,558.40 L440.00,558.40 L442.00,558.40 L444.00,558.40 L446.00,558.40 L448.00,558.40 L450.00,558.40 L452.00,558.40 L454.00,558.40 L456.00,558.40 L458.00,558.40 L460.00,558.40 L462.00,558.40 L464.00,558.40 L466.00,558.40 L468.00,558.40 L470.00,558.40 L472.00,558.40 L474.00,558.40 L476.00,558.40 L478.00,558.40 L480.00,558.40 L482.00,558.40 L484.00,558.40 L486.00,558.40 L488.00,558.40 L490.00,558.40 L492.00,558.40 L494.00,558.40 L496.00,558.40 L498.00,558.40 L500.00,558.40 L502.00,558.40 L504.00,558.40 L506.00,558.40 L508.00,558.40 L510.00,558.40 L512.00,558.40 L513.70,558.40" fill="none" stroke="#9a9a9a" stroke-width="0.9"/>
<path d="M54.00,558.21 L56.00,557.87 L58.00,557.87 L60.00,558.21 L62.00,558.37 L64.00,558.40 L66.00,558.40 L68.00,558.40 L70.00,558.40 L72.00,558.40 L74.00,558.40 L76.00,558.40 L78.00,558.40 L80.00,558.40 L82.00,558.40 L84.00,558.40 L86.00,558.40 L88.00,558.40 L90.00,558.40 L92.00,558.40 L94.00,558.40 L96.00,558.40 L98.00,558.40 L100.00,558.40 L102.00,558.40 L104.00,558.40 L106.00,558.40 L108.00,558.40 L110.00,558.40 L112.00,558.40 L114.00,558.40 L116.00,558.40 L118.00,558.40 L120.00,558.40 L122.00,558.40 L124.00,558.40 L126.00,558.40 L128.00,558.40 L130.00,558.40 L132.00,558.40 L134.00,558.40 L136.00,558.40 L138.00,558.40 L140.00,558.40 L142.00,558.40 L144.00,558.40 L146.00,558.40 L148.00,558.40 L150.00,558.40 L150.25,558.40 L150.50,558.40 L150.75,558.40 L151.00,558.40 L151.25,558.40 L151.50,558.40 L151.75,558.40 L152.00,558.40 L152.25,558.40 L152.50,558.40 L152.75,558.40 L153.00,558.40 L153.25,558.40 L153.50,558.40 L153.75,558.40 L154.00,558.40 L154.25,558.40 L154.50,558.40 L154.75,558.40 L155.00,558.40 L155.25,558.40 L155.50,558.40 L155.75,558.40 L156.00,558.40 L156.25,558.40 L156.50,558.40 L156.75,558.40 L157.00,558.40 L157.25,558.40 L157.50,558.40 L157.75,558.40 L158.00,558.40 L158.25,558.40 L158.50,558.40 L158.75,558.40 L159.00,558.40 L159.25,558.40 L159.50,558.40 L159.75,558.40 L160.00,558.40 L160.25,558.40 L160.50,558.40 L160.75,558.40 L161.00,558.40 L161.25,558.40 L161.50,558.40 L161.75,558.40 L162.00,558.40 L162.25,558.40 L162.50,558.40 L162.75,558.40 L163.00,558.40 L163.25,558.40 L163.50,558.40 L163.75,558.40 L164.00,558.40 L164.25,558.40 L164.50,558.40 L164.75,558.40 L165.00,558.40 L165.25,558.39 L165.50,558.39 L165.75,558.39 L166.00,558.38 L166.25,558.37 L166.50,558.36 L166.75,558.34 L167.00,558.32 L167.25,558.29 L167.50,558.25 L167.75,558.20 L168.00,558.15 L168.25,558.09 L168.50,558.02 L168.75,557.94 L169.00,557.86 L169.25,557.78 L169.50,557.69 L169.75,557.61 L170.00,557.54 L170.25,557.48 L170.50,557.44 L170.75,557.41 L171.00,557.40 L171.25,557.41 L171.50,557.44 L171.75,557.48 L172.00,557.54 L172.25,557.61 L172.50,557.69 L172.75,557.77 L173.00,557.86 L173.25,557.94 L173.50,558.01 L173.75,558.08 L174.00,558.13 L174.25,558.18 L174.50,558.21 L174.75,558.23 L175.00,558.24 L175.25,558.24 L175.50,558.22 L175.75,558.19 L176.00,558.15 L176.25,558.11 L176.50,558.05 L176.75,557.98 L177.00,557.91 L177.25,557.84 L177.50,557.76 L177.75,557.69 L178.00,557.63 L178.25,557.57 L178.50,557.53 L178.75,557.51 L179.00,557.50 L179.25,557.51 L179.50,557.53 L179.75,557.57 L180.00,557.63 L180.25,557.69 L180.50,557.76 L180.75,557.84 L181.00,557.91 L181.25,557.99 L181.50,558.06 L181.75,558.12 L182.00,558.18 L182.25,558.22 L182.50,558.26 L182.75,558.30 L183.00,558.32 L183.25,558.34 L183.50,558.36 L183.75,558.37 L184.00,558.38 L184.25,558.39 L184.50,558.39 L184.75,558.39 L185.00,558.40 L185.25,558.40 L185.50,558.40 L185.75,558.40 L186.00,558.40 L186.25,558.40 L186.50,558.40 L186.75,558.40 L187.00,558.40 L187.25,558.40 L187.50,558.40 L187.75,558.40 L188.00,558.40 L188.25,558.40 L188.50,558.40 L188.75,558.40 L189.00,558.40 L189.25,558.40 L189.50,558.40 L189.75,558.40 L190.00,558.40 L192.00,558.40 L194.00,558.40 L194.25,558.40 L194.50,558.40 L194.75,558.40 L195.00,558.40 L195.25,558.40 L195.50,558.40 L195.75,558.40 L196.00,558.40 L196.25,558.40 L196.50,558.40 L196.75,558.40 L197.00,558.40 L197.25,558.40 L197.50,558.40 L197.75,558.40 L198.00,558.40 L198.25,558.40 L198.50,558.39 L198.75,558.39 L199.00,558.39 L199.25,558.38 L199.50,558.37 L199.75,558.36 L200.00,558.35 L200.25,558.33 L200.50,558.30 L200.75,558.27 L201.00,558.24 L201.25,558.19 L201.50,558.14 L201.75,558.08 L202.00,558.01 L202.25,557.93 L202.50,557.85 L202.75,557.76 L203.00,557.67 L203.25,557.58 L203.50,557.49 L203.75,557.41 L204.00,557.34 L204.25,557.28 L204.50,557.24 L204.75,557.21 L205.00,557.20 L205.25,557.21 L205.50,557.24 L205.75,557.28 L206.00,557.34 L206.25,557.41 L206.50,557.49 L206.75,557.57 L207.00,557.66 L207.25,557.74 L207.50,557.82 L207.75,557.88 L208.00,557.94 L208.25,557.99 L208.50,558.02 L208.75,558.04 L209.00,558.04 L209.25,558.03 L209.50,558.00 L209.75,557.96 L210.00,557.92 L210.25,557.86 L210.50,557.81 L210.75,557.75 L211.00,557.70 L211.25,557.66 L211.50,557.62 L211.75,557.60 L212.00,557.60 L212.25,557.61 L212.50,557.63 L212.75,557.67 L213.00,557.71 L213.25,557.77 L213.50,557.83 L213.75,557.90 L214.00,557.97 L214.25,558.03 L214.50,558.10 L214.75,558.15 L215.00,558.20 L215.25,558.24 L215.50,558.28 L215.75,558.31 L216.00,558.33 L216.25,558.35 L216.50,558.36 L216.75,558.38 L217.00,558.38 L217.25,558.39 L217.50,558.39 L217.75,558.40 L218.00,558.40 L218.25,558.40 L218.50,558.40 L218.75,558.40 L219.00,558.40 L219.25,558.40 L219.50,558.40 L219.75,558.40 L220.00,558.40 L220.25,558.40 L220.50,558.40 L220.75,558.40 L221.00,558.40 L221.25,558.40 L221.50,558.40 L221.75,558.40 L222.00,558.40 L222.25,558.40 L222.50,558.40 L222.75,558.40 L223.00,558.40 L225.00,558.40 L227.00,558.40 L229.00,558.40 L231.00,558.40 L233.00,558.40 L235.00,558.40 L237.00,558.40 L239.00,558.40 L241.00,558.40 L243.00,558.40 L245.00,558.40 L247.00,558.40 L249.00,558.40 L251.00,558.40 L253.00,558.40 L255.00,558.40 L257.00,558.40 L259.00,558.40 L261.00,558.40 L263.00,558.40 L265.00,558.40 L267.00,558.40 L269.00,558.40 L271.00,558.40 L273.00,558.40 L275.00,558.40 L277.00,558.40 L279.00,558.40 L281.00,558.40 L283.00,558.40 L285.00,558.40 L287.00,558.40 L289.00,558.40 L291.00,558.40 L293.00,558.40 L295.00,558.40 L297.00,558.40 L299.00,558.40 L301.00,558.40 L303.00,558.40 L305.00,558.40 L307.00,558.40 L309.00,558.40 L311.00,558.40 L313.00,558.40 L315.00,558.40 L317.00,558.40 L319.00,558.40 L321.00,558.40 L323.00,558.40 L325.00,558.40 L327.00,558.40 L329.00,558.40 L331.00,558.40 L333.00,558.40 L335.00,558.40 L337.00,558.40 L339.00,558.40 L341.00,558.40 L343.00,558.40 L345.00,558.40 L347.00,558.40 L349.00,558.40 L351.00,558.40 L353.00,558.40 L355.00,558.40 L355.25,558.40 L355.50,558.40 L355.75,558.40 L356.00,558.40 L356.25,558.40 L356.50,558.40 L356.75,558.40 L357.00,558.40 L357.25,558.40 L357.50,558.40 L357.75,558.40 L358.00,558.40 L358.25,558.40 L358.50,558.40 L358.75,558.40 L359.00,558.40 L359.25,558.40 L359.50,558.40 L359.75,558.40 L360.00,558.40 L360.25,558.40 L360.50,558.39 L360.75,558.39 L361.00,558.38 L361.25,558.38 L361.50,558.36 L361.75,558.35 L362.00,558.33 L362.25,558.31 L362.50,558.28 L362.75,558.24 L363.00,558.20 L363.25,558.15 L363.50,558.10 L363.75,558.03 L364.00,557.97 L364.25,557.90 L364.50,557.83 L364.75,557.77 L365.00,557.71 L365.25,557.67 L365.50,557.63 L365.75,557.61 L366.00,557.60 L366.25,557.61 L366.50,557.63 L366.75,557.67 L367.00,557.71 L367.25,557.77 L367.50,557.83 L367.75,557.90 L368.00,557.97 L368.25,558.03 L368.50,558.10 L368.75,558.15 L369.00,558.20 L369.25,558.24 L369.50,558.28 L369.75,558.31 L370.00,558.33 L370.25,558.35 L370.50,558.36 L370.75,558.38 L371.00,558.38 L371.25,558.39 L371.50,558.39 L371.75,558.40 L372.00,558.40 L372.25,558.40 L372.50,558.40 L372.75,558.40 L373.00,558.40 L373.25,558.40 L373.50,558.40 L373.75,558.40 L374.00,558.40 L374.25,558.40 L374.50,558.40 L374.75,558.40 L375.00,558.40 L375.25,558.40 L375.50,558.40 L375.75,558.40 L376.00,558.40 L376.25,558.40 L376.50,558.40 L376.75,558.40 L377.00,558.40 L377.25,558.40 L377.50,558.40 L377.75,558.40 L378.00,558.40 L378.25,558.40 L378.50,558.40 L378.75,558.40 L379.00,558.40 L379.25,558.40 L379.50,558.40 L379.75,558.40 L380.00,558.40 L380.25,558.40 L380.50,558.40 L380.75,558.40 L381.00,558.40 L381.25,558.40 L381.50,558.40 L381.75,558.40 L382.00,558.40 L382.25,558.40 L382.50,558.40 L382.75,558.40 L383.00,558.40 L383.25,558.40 L383.50,558.40 L383.75,558.40 L384.00,558.40 L386.00,558.40 L388.00,558.40 L388.25,558.40 L388.50,558.40 L388.75,558.40 L389.00,558.40 L389.25,558.40 L389.50,558.40 L389.75,558.40 L390.00,558.40 L390.25,558.40 L390.50,558.40 L390.75,558.40 L391.00,558.40 L391.25,558.40 L391.50,558.40 L391.75,558.40 L392.00,558.40 L392.25,558.40 L392.50,558.40 L392.75,558.40 L393.00,558.40 L393.25,558.39 L393.50,558.39 L393.75,558.39 L394.00,558.38 L394.25,558.37 L394.50,558.36 L394.75,558.34 L395.00,558.32 L395.25,558.29 L395.50,558.25 L395.75,558.20 L396.00,558.15 L396.25,558.09 L396.50,558.02 L396.75,557.94 L397.00,557.86 L397.25,557.78 L397.50,557.69 L397.75,557.61 L398.00,557.54 L398.25,557.48 L398.50,557.44 L398.75,557.41 L399.00,557.40 L399.25,557.41 L399.50,557.44 L399.75,557.48 L400.00,557.54 L400.25,557.61 L400.50,557.69 L400.75,557.77 L401.00,557.85 L401.25,557.92 L401.50,557.99 L401.75,558.05 L402.00,558.09 L402.25,558.12 L402.50,558.14 L402.75,558.15 L403.00,558.14 L403.25,558.12 L403.50,558.09 L403.75,558.05 L404.00,558.00 L404.25,557.95 L404.50,557.90 L404.75,557.84 L405.00,557.80 L405.25,557.76 L405.50,557.73 L405.75,557.71 L406.00,557.70 L406.25,557.71 L406.50,557.73 L406.75,557.76 L407.00,557.80 L407.25,557.85 L407.50,557.91 L407.75,557.96 L408.00,558.02 L408.25,558.08 L408.50,558.13 L408.75,558.18 L409.00,558.23 L409.25,558.26 L409.50,558.29 L409.75,558.32 L410.00,558.34 L410.25,558.36 L410.50,558.37 L410.75,558.38 L411.00,558.39 L411.25,558.39 L411.50,558.39 L411.75,558.40 L412.00,558.40 L412.25,558.40 L412.50,558.40 L412.75,558.40 L413.00,558.40 L413.25,558.40 L413.50,558.40 L413.75,558.40 L414.00,558.40 L414.25,558.40 L414.50,558.40 L414.75,558.40 L415.00,558.40 L415.25,558.40 L415.50,558.40 L415.75,558.40 L416.00,558.40 L416.25,558.40 L416.50,558.40 L416.75,558.40 L417.00,558.40 L417.25,558.40 L417.50,558.40 L417.75,558.40 L418.00,558.40 L420.00,558.40 L422.00,558.40 L424.00,558.40 L426.00,558.40 L428.00,558.40 L430.00,558.40 L432.00,558.40 L434.00,558.40 L436.00,558.40 L438.00,558.40 L440.00,558.40 L442.00,558.40 L444.00,558.40 L446.00,558.40 L448.00,558.40 L450.00,558.40 L452.00,558.40 L454.00,558.40 L456.00,558.40 L458.00,558.40 L460.00,558.40 L462.00,558.40 L464.00,558.40 L466.00,558.40 L468.00,558.40 L470.00,558.40 L472.00,558.40 L474.00,558.40 L476.00,558.40 L478.00,558.40 L480.00,558.40 L482.00,558.40 L484.00,558.40 L486.00,558.40 L488.00,558.40 L490.00,558.40 L492.00,558.40 L494.00,558.40 L496.00,558.40 L498.00,558.40 L500.00,558.40 L502.00,558.40 L504.00,558.40 L506.00,558.40 L508.00,558.40 L510.00,558.40 L512.00,558.40 L513.70,558.40" fill="none" stroke="#e0401a" stroke-width="0.9"/>
<path d="M54.00,558.40 L56.00,558.40 L58.00,558.40 L60.00,558.40 L62.00,558.40 L64.00,558.40 L66.00,558.39 L68.00,558.37 L70.00,558.33 L72.00,558.26 L74.00,558.16 L76.00,558.04 L78.00,557.94 L80.00,557.90 L82.00,557.94 L84.00,558.04 L86.00,558.16 L88.00,558.26 L90.00,558.33 L92.00,558.37 L94.00,558.38 L96.00,558.37 L98.00,558.35 L100.00,558.30 L102.00,558.24 L104.00,558.16 L106.00,558.08 L108.00,558.02 L110.00,558.00 L112.00,558.02 L114.00,558.08 L116.00,558.16 L118.00,558.24 L120.00,558.30 L122.00,558.35 L124.00,558.37 L126.00,558.39 L128.00,558.40 L130.00,558.40 L132.00,558.40 L134.00,558.40 L136.00,558.40 L138.00,558.40 L140.00,558.40 L142.00,558.40 L144.00,558.40 L146.00,558.40 L148.00,558.40 L150.00,558.40 L150.25,558.40 L150.50,558.40 L150.75,558.40 L151.00,558.40 L151.25,558.40 L151.50,558.40 L151.75,558.40 L152.00,558.40 L152.25,558.39 L152.50,558.39 L152.75,558.39 L153.00,558.38 L153.25,558.36 L153.50,558.35 L153.75,558.32 L154.00,558.29 L154.25,558.25 L154.50,558.20 L154.75,558.14 L155.00,558.07 L155.25,557.99 L155.50,557.91 L155.75,557.83 L156.00,557.76 L156.25,557.69 L156.50,557.64 L156.75,557.61 L157.00,557.60 L157.25,557.61 L157.50,557.64 L157.75,557.69 L158.00,557.76 L158.25,557.83 L158.50,557.91 L158.75,557.99 L159.00,558.07 L159.25,558.14 L159.50,558.20 L159.75,558.25 L160.00,558.29 L160.25,558.32 L160.50,558.35 L160.75,558.36 L161.00,558.38 L161.25,558.39 L161.50,558.39 L161.75,558.39 L162.00,558.40 L162.25,558.40 L162.50,558.40 L162.75,558.39 L163.00,558.38 L163.25,558.35 L163.50,558.31 L163.75,558.22 L164.00,558.07 L164.25,557.84 L164.50,557.48 L164.75,556.98 L165.00,556.31 L165.25,555.46 L165.50,554.43 L165.75,553.23 L166.00,551.87 L166.25,550.36 L166.50,548.70 L166.75,546.94 L167.00,545.12 L167.25,543.36 L167.50,541.79 L167.75,540.55 L168.00,539.78 L168.25,539.51 L168.50,539.64 L168.75,539.90 L169.00,539.86 L169.25,538.92 L169.50,536.48 L169.75,532.03 L170.00,525.40 L170.25,516.86 L170.50,507.24 L170.75,497.85 L171.00,490.23 L171.25,485.79 L171.50,485.42 L171.75,489.25 L172.00,496.61 L172.25,506.26 L172.50,516.72 L172.75,526.64 L173.00,535.07 L173.25,541.58 L173.50,546.13 L173.75,549.03 L174.00,550.69 L174.25,551.52 L174.50,551.85 L174.75,551.94 L175.00,551.91 L175.25,551.83 L175.50,551.68 L175.75,551.41 L176.00,550.95 L176.25,550.21 L176.50,549.10 L176.75,547.58 L177.00,545.64 L177.25,543.38 L177.50,540.96 L177.75,538.60 L178.00,536.58 L178.25,535.16 L178.50,534.56 L178.75,534.88 L179.00,536.12 L179.25,538.16 L179.50,540.77 L179.75,543.68 L180.00,546.63 L180.25,549.38 L180.50,551.78 L180.75,553.74 L181.00,555.26 L181.25,556.38 L181.50,557.15 L181.75,557.66 L182.00,557.98 L182.25,558.17 L182.50,558.28 L182.75,558.34 L183.00,558.37 L183.25,558.39 L183.50,558.39 L183.75,558.40 L184.00,558.40 L184.25,558.40 L184.50,558.40 L184.75,558.40 L185.00,558.40 L185.25,558.40 L185.50,558.40 L185.75,558.40 L186.00,558.40 L186.25,558.40 L186.50,558.40 L186.75,558.40 L187.00,558.40 L187.25,558.40 L187.50,558.40 L187.75,558.40 L188.00,558.40 L188.25,558.40 L188.50,558.40 L188.75,558.40 L189.00,558.40 L189.25,558.40 L189.50,558.40 L189.75,558.40 L190.00,558.40 L192.00,558.40 L194.00,558.40 L194.25,558.40 L194.50,558.40 L194.75,558.40 L195.00,558.40 L195.25,558.40 L195.50,558.39 L195.75,558.38 L196.00,558.36 L196.25,558.31 L196.50,558.22 L196.75,558.07 L197.00,557.81 L197.25,557.40 L197.50,556.81 L197.75,555.99 L198.00,554.92 L198.25,553.59 L198.50,552.00 L198.75,550.18 L199.00,548.12 L199.25,545.85 L199.50,543.39 L199.75,540.80 L200.00,538.19 L200.25,535.72 L200.50,533.62 L200.75,532.09 L201.00,531.26 L201.25,531.13 L201.50,531.46 L201.75,531.74 L202.00,531.26 L202.25,529.12 L202.50,524.48 L202.75,516.76 L203.00,505.94 L203.25,492.75 L203.50,478.68 L203.75,465.84 L204.00,456.44 L204.25,452.29 L204.50,454.26 L204.75,462.06 L205.00,474.34 L205.25,489.09 L205.50,504.17 L205.75,517.83 L206.00,528.99 L206.25,537.27 L206.50,542.84 L206.75,546.23 L207.00,548.05 L207.25,548.88 L207.50,549.16 L207.75,549.19 L208.00,549.12 L208.25,549.02 L208.50,548.88 L208.75,548.60 L209.00,548.09 L209.25,547.20 L209.50,545.80 L209.75,543.79 L210.00,541.15 L210.25,537.95 L210.50,534.40 L210.75,530.78 L211.00,527.51 L211.25,524.97 L211.50,523.53 L211.75,523.42 L212.00,524.69 L212.25,527.24 L212.50,530.79 L212.75,534.94 L213.00,539.31 L213.25,543.51 L213.50,547.28 L213.75,550.44 L214.00,552.95 L214.25,554.82 L214.50,556.15 L214.75,557.05 L215.00,557.62 L215.25,557.97 L215.50,558.17 L215.75,558.28 L216.00,558.34 L216.25,558.37 L216.50,558.39 L216.75,558.40 L217.00,558.40 L217.25,558.40 L217.50,558.40 L217.75,558.40 L218.00,558.40 L218.25,558.40 L218.50,558.40 L218.75,558.40 L219.00,558.40 L219.25,558.40 L219.50,558.40 L219.75,558.40 L220.00,558.40 L220.25,558.40 L220.50,558.40 L220.75,558.40 L221.00,558.40 L221.25,558.40 L221.50,558.40 L221.75,558.40 L222.00,558.40 L222.25,558.40 L222.50,558.40 L222.75,558.40 L223.00,558.40 L225.00,558.40 L227.00,558.40 L229.00,558.40 L231.00,558.40 L233.00,558.40 L235.00,558.40 L237.00,558.40 L239.00,558.40 L241.00,558.40 L243.00,558.40 L245.00,558.40 L247.00,558.40 L249.00,558.40 L251.00,558.40 L253.00,558.40 L255.00,558.40 L257.00,558.40 L259.00,558.40 L261.00,558.40 L263.00,558.40 L265.00,558.40 L267.00,558.40 L269.00,558.40 L271.00,558.40 L273.00,558.40 L275.00,558.40 L277.00,558.40 L279.00,558.40 L281.00,558.40 L283.00,558.40 L285.00,558.40 L287.00,558.40 L289.00,558.40 L291.00,558.40 L293.00,558.40 L295.00,558.40 L297.00,558.40 L299.00,558.40 L301.00,558.40 L303.00,558.40 L305.00,558.40 L307.00,558.40 L309.00,558.40 L311.00,558.40 L313.00,558.40 L315.00,558.40 L317.00,558.40 L319.00,558.40 L321.00,558.40 L323.00,558.40 L325.00,558.40 L327.00,558.40 L329.00,558.40 L331.00,558.40 L333.00,558.40 L335.00,558.40 L337.00,558.40 L339.00,558.40 L341.00,558.40 L343.00,558.40 L345.00,558.40 L347.00,558.40 L349.00,558.40 L351.00,558.40 L353.00,558.40 L355.00,558.39 L355.25,558.39 L355.50,558.38 L355.75,558.36 L356.00,558.33 L356.25,558.28 L356.50,558.21 L356.75,558.10 L357.00,557.95 L357.25,557.75 L357.50,557.49 L357.75,557.14 L358.00,556.71 L358.25,556.19 L358.50,555.57 L358.75,554.85 L359.00,554.03 L359.25,553.12 L359.50,552.15 L359.75,551.13 L360.00,550.10 L360.25,549.10 L360.50,548.16 L360.75,547.33 L361.00,546.64 L361.25,546.07 L361.50,545.59 L361.75,545.11 L362.00,544.51 L362.25,543.60 L362.50,542.20 L362.75,540.10 L363.00,537.17 L363.25,533.33 L363.50,528.65 L363.75,523.35 L364.00,517.79 L364.25,512.45 L364.50,507.89 L364.75,504.60 L365.00,503.00 L365.25,503.31 L365.50,505.51 L365.75,509.40 L366.00,514.56 L366.25,520.49 L366.50,526.67 L366.75,532.63 L367.00,538.00 L367.25,542.56 L367.50,546.22 L367.75,549.01 L368.00,551.00 L368.25,552.33 L368.50,553.13 L368.75,553.50 L369.00,553.55 L369.25,553.32 L369.50,552.85 L369.75,552.14 L370.00,551.20 L370.25,550.05 L370.50,548.68 L370.75,547.15 L371.00,545.52 L371.25,543.86 L371.50,542.27 L371.75,540.86 L372.00,539.73 L372.25,538.99 L372.50,538.69 L372.75,538.87 L373.00,539.52 L373.25,540.62 L373.50,542.07 L373.75,543.78 L374.00,545.66 L374.25,547.57 L374.50,549.44 L374.75,551.18 L375.00,552.73 L375.25,554.06 L375.50,555.17 L375.75,556.05 L376.00,556.74 L376.25,557.26 L376.50,557.63 L376.75,557.90 L377.00,558.08 L377.25,558.20 L377.50,558.28 L377.75,558.33 L378.00,558.36 L378.25,558.38 L378.50,558.39 L378.75,558.39 L379.00,558.40 L379.25,558.40 L379.50,558.40 L379.75,558.40 L380.00,558.40 L380.25,558.40 L380.50,558.40 L380.75,558.40 L381.00,558.40 L381.25,558.40 L381.50,558.40 L381.75,558.40 L382.00,558.40 L382.25,558.40 L382.50,558.40 L382.75,558.40 L383.00,558.40 L383.25,558.40 L383.50,558.40 L383.75,558.40 L384.00,558.40 L386.00,558.40 L388.00,558.39 L388.25,558.39 L388.50,558.38 L388.75,558.37 L389.00,558.34 L389.25,558.30 L389.50,558.24 L389.75,558.15 L390.00,558.01 L390.25,557.81 L390.50,557.54 L390.75,557.17 L391.00,556.70 L391.25,556.09 L391.50,555.34 L391.75,554.44 L392.00,553.38 L392.25,552.15 L392.50,550.77 L392.75,549.25 L393.00,547.63 L393.25,545.94 L393.50,544.23 L393.75,542.58 L394.00,541.04 L394.25,539.67 L394.50,538.51 L394.75,537.56 L395.00,536.77 L395.25,536.03 L395.50,535.16 L395.75,533.93 L396.00,532.09 L396.25,529.37 L396.50,525.56 L396.75,520.55 L397.00,514.41 L397.25,507.36 L397.50,499.85 L397.75,492.46 L398.00,485.89 L398.25,480.82 L398.50,477.84 L398.75,477.32 L399.00,479.38 L399.25,483.86 L399.50,490.33 L399.75,498.20 L400.00,506.79 L400.25,515.43 L400.50,523.57 L400.75,530.81 L401.00,536.91 L401.25,541.79 L401.50,545.51 L401.75,548.21 L402.00,550.05 L402.25,551.19 L402.50,551.80 L402.75,551.99 L403.00,551.82 L403.25,551.33 L403.50,550.55 L403.75,549.47 L404.00,548.10 L404.25,546.44 L404.50,544.52 L404.75,542.40 L405.00,540.17 L405.25,537.92 L405.50,535.79 L405.75,533.92 L406.00,532.42 L406.25,531.43 L406.50,531.02 L406.75,531.23 L407.00,532.07 L407.25,533.47 L407.50,535.35 L407.75,537.60 L408.00,540.08 L408.25,542.64 L408.50,545.18 L408.75,547.57 L409.00,549.74 L409.25,551.64 L409.50,553.26 L409.75,554.58 L410.00,555.63 L410.25,556.44 L410.50,557.05 L410.75,557.49 L411.00,557.80 L411.25,558.02 L411.50,558.16 L411.75,558.25 L412.00,558.31 L412.25,558.35 L412.50,558.37 L412.75,558.38 L413.00,558.39 L413.25,558.40 L413.50,558.40 L413.75,558.40 L414.00,558.40 L414.25,558.40 L414.50,558.40 L414.75,558.40 L415.00,558.40 L415.25,558.40 L415.50,558.40 L415.75,558.40 L416.00,558.40 L416.25,558.40 L416.50,558.40 L416.75,558.40 L417.00,558.40 L417.25,558.40 L417.50,558.40 L417.75,558.40 L418.00,558.40 L420.00,558.40 L422.00,558.40 L424.00,558.40 L426.00,558.40 L428.00,558.40 L430.00,558.40 L432.00,558.40 L434.00,558.40 L436.00,558.40 L438.00,558.40 L440.00,558.40 L442.00,558.40 L444.00,558.40 L446.00,558.40 L448.00,558.40 L450.00,558.40 L452.00,558.40 L454.00,558.40 L456.00,558.40 L458.00,558.40 L460.00,558.40 L462.00,558.40 L464.00,558.40 L466.00,558.40 L468.00,558.40 L470.00,558.40 L472.00,558.40 L474.00,558.40 L476.00,558.40 L478.00,558.40 L480.00,558.40 L482.00,558.40 L484.00,558.40 L486.00,558.40 L488.00,558.40 L490.00,558.40 L492.00,558.40 L494.00,558.40 L496.00,558.40 L498.00,558.40 L500.00,558.40 L502.00,558.40 L504.00,558.40 L506.00,558.40 L508.00,558.40 L510.00,558.40 L512.00,558.40 L513.70,558.40" fill="none" stroke="#2c26cf" stroke-width="1.1" stroke-linejoin="round"/>
<line x1="53.8" x2="514" y1="558.45" y2="558.45" stroke="#3c3552" stroke-width="1.15" opacity="0.9"/>
<text transform="translate(170.9,480.4) rotate(-90)" font-size="9" font-style="italic" stroke="#000" stroke-width="0.25">mut.</text>
<text transform="translate(181.9,495.3) rotate(-90)" font-size="9" font-style="italic" stroke="#000" stroke-width="0.25">wt.</text>
<text transform="translate(205.0,443.3) rotate(-90)" font-size="9" font-style="italic" stroke="#000" stroke-width="0.25">mut.</text>
<text transform="translate(216.3,474.3) rotate(-90)" font-size="9" font-style="italic" stroke="#000" stroke-width="0.25">wt.</text>
<text transform="translate(364.2,493.4) rotate(-90)" font-size="9" font-style="italic" stroke="#000" stroke-width="0.25">mut.</text>
<text transform="translate(376.5,503.3) rotate(-90)" font-size="9" font-style="italic" stroke="#000" stroke-width="0.25">wt.</text>
<text transform="translate(398.1,471.6) rotate(-90)" font-size="9" font-style="italic" stroke="#000" stroke-width="0.25">mut.</text>
<text transform="translate(410.7,486.7) rotate(-90)" font-size="9" font-style="italic" stroke="#000" stroke-width="0.25">wt.</text>
<text x="64.2" y="569.4" font-size="10.3" font-weight="bold" stroke="#000" stroke-width="0.2"><tspan font-style="italic">WT1</tspan> isoforms</text>
<text x="64.2" y="581.9" font-size="10.3" font-weight="bold" stroke="#000" stroke-width="0.2">(exon 5 / KTS)</text>
<text x="172.7" y="575.7" font-size="10" font-weight="bold" text-anchor="middle" stroke="#000" stroke-width="0.2">-/-</text>
<text x="204.0" y="575.7" font-size="10" font-weight="bold" text-anchor="middle" stroke="#000" stroke-width="0.2">-/+</text>
<text x="368.4" y="575.7" font-size="10" font-weight="bold" text-anchor="middle" stroke="#000" stroke-width="0.2">+/-</text>
<text x="402.3" y="575.7" font-size="10" font-weight="bold" text-anchor="middle" stroke="#000" stroke-width="0.2">+/+</text>
<rect x="371.2" y="583.6" width="141.3" height="18.8" fill="#fff" stroke="#000" stroke-width="1"/>
<line x1="375.5" x2="390.9" y1="593.1" y2="593.1" stroke="#2b22d6" stroke-width="2"/>
<text x="394.6" y="596" font-size="9.1">CHX 100 <tspan font-style="italic">µ</tspan>g/ml</text>
<line x1="464.6" x2="481" y1="593.1" y2="593.1" stroke="#9a9a9a" stroke-width="2"/>
<text x="484.6" y="596" font-size="8.95">DMSO</text>
</svg>
</body></html>
